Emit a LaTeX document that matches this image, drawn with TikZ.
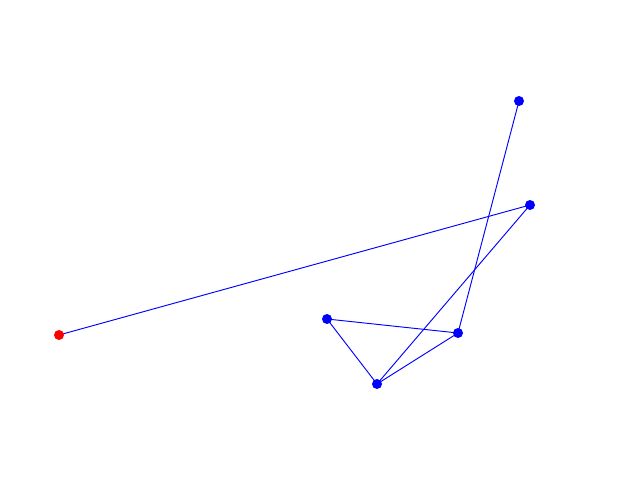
\documentclass[tikz,border=0pt]{standalone}
\usetikzlibrary{backgrounds}
\begin{document}
\begin{tikzpicture}[x=0.03cm,y=-0.03cm,
  dot/.style={circle,inner sep=0pt,minimum size=0.3cm},
  bdot/.style={dot,fill=blue},
  rdot/.style={dot,fill=red},
  edge/.style={blue,line width=0.8pt}]
\useasboundingbox (0,0) rectangle (640,480);
\node[rdot] (r) at (59,335) {};
\node[bdot] (a) at (530,205) {};
\node[bdot] (b) at (377,384) {};
\node[bdot] (c) at (327,319) {};
\node[bdot] (d) at (458,333) {};
\node[bdot] (e) at (519,101) {};
\begin{scope}[on background layer]
\draw[edge] (r.center) -- (a.center);
\draw[edge] (a.center) -- (b.center);
\draw[edge] (b.center) -- (c.center);
\draw[edge] (c.center) -- (d.center);
\draw[edge] (d.center) -- (b.center);
\draw[edge] (d.center) -- (e.center);
\end{scope}
\end{tikzpicture}
\end{document}
